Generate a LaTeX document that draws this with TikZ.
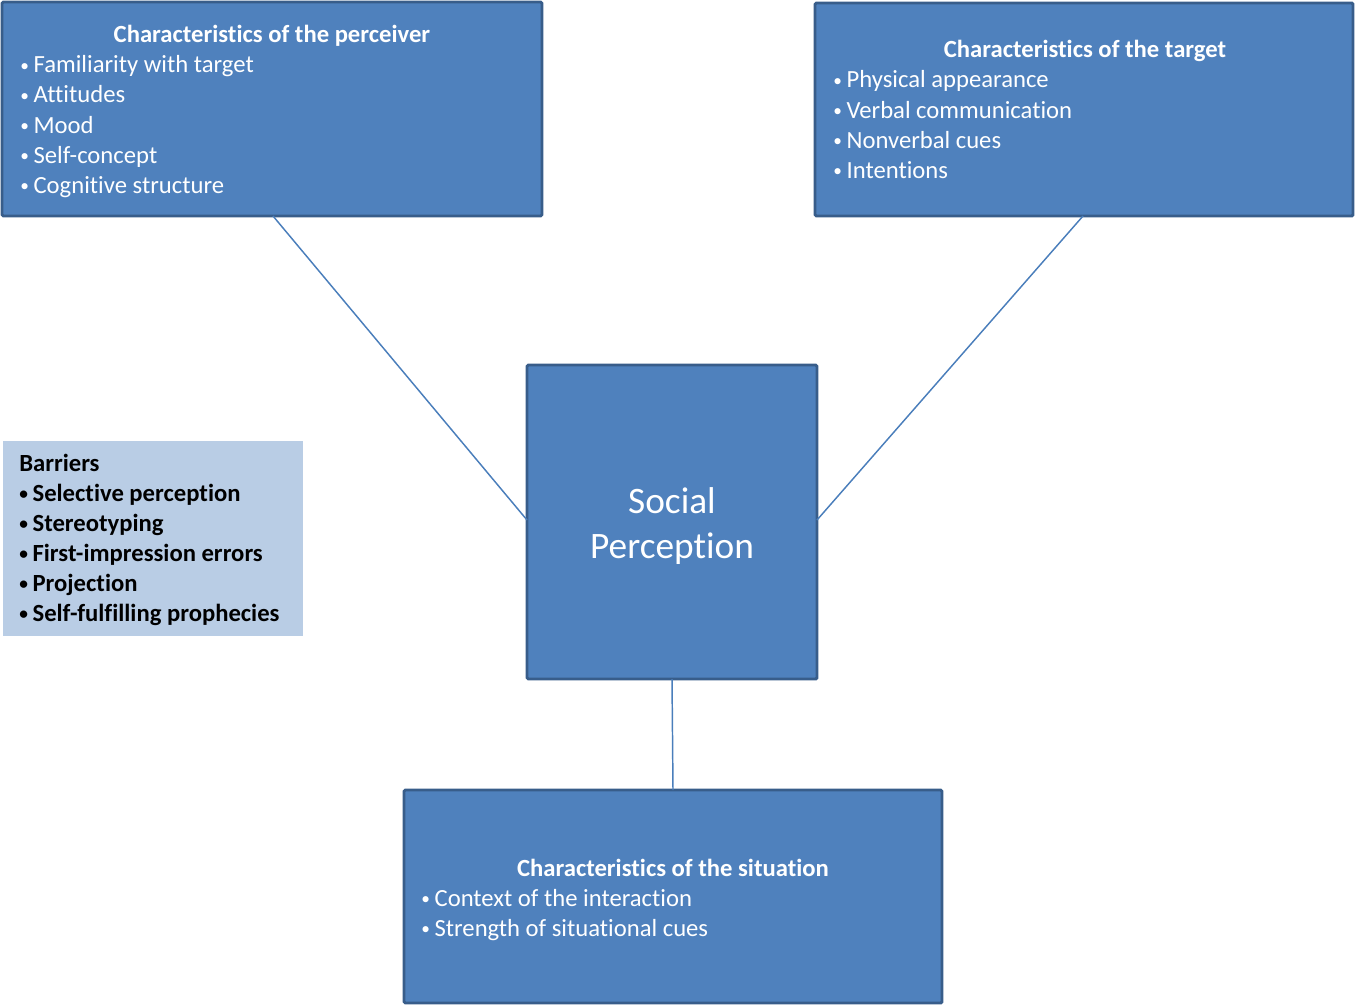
\documentclass[tikz,border=0pt]{standalone}
\usepackage{fontspec}
\setmainfont[Ligatures={NoCommon}]{Carlito}
\newcommand\bul{\makebox[10pt][l]{\raisebox{1.4pt}{\fontsize{13}{13}\selectfont\textbullet}}}
\begin{document}
\begin{tikzpicture}[x=0.75pt,y=-0.75pt,
  bluebox/.style={draw=boxborder,line width=2.2pt,fill=boxfill,rounded corners=1pt,inner sep=0pt},
  lightbox/.style={fill=barfill,draw=none,inner sep=0pt},
  wtxt/.style={text=white,font=\fontsize{18.5}{22.5}\selectfont,inner sep=0pt,anchor=base west},
  wtitle/.style={text=white,font=\fontsize{18.5}{22.5}\selectfont\bfseries,inner sep=0pt,anchor=base},
  btxt/.style={text=black,font=\fontsize{18.5}{22.5}\selectfont\bfseries,inner sep=0pt,anchor=base west},
  conn/.style={draw=linecol,line width=1.1pt}]
\definecolor{boxfill}{HTML}{4F81BD}
\definecolor{boxborder}{HTML}{385D8A}
\definecolor{barfill}{HTML}{B9CDE5}
\definecolor{linecol}{HTML}{4A7EBB}
\useasboundingbox (0,0) rectangle (1356,1006);
% boxes
\node[bluebox,minimum width=405pt,minimum height=160.5pt] (perc) at (272,109) {};
\node[bluebox,minimum width=403.5pt,minimum height=159.75pt] (targ) at (1084,109.5) {};
\node[bluebox,minimum width=217.5pt,minimum height=235.5pt] (soc) at (672,522) {};
\node[bluebox,minimum width=403.5pt,minimum height=159.75pt] (sit) at (673,896.5) {};
\node[lightbox,minimum width=225pt,minimum height=146.25pt] (bar) at (153,538.5) {};
% connectors
\coordinate (pc) at (273,216);
\coordinate (tc) at (1083,216);
\coordinate (sl) at (527,520);
\coordinate (sr) at (817,520);
\coordinate (sb) at (672,679);
\coordinate (st) at (673,790);
\draw[conn] (pc) -- (sl);
\draw[conn] (tc) -- (sr);
\draw[conn] (sb) -- (st);
% perceiver text
\node[wtitle] (pt) at (272,43) {Characteristics of the perceiver};
\node[wtxt] (p1) at (20,73) {\bul Familiarity with target};
\node[wtxt] (p2) at (20,103) {\bul Attitudes};
\node[wtxt] (p3) at (20,133) {\bul Mood};
\node[wtxt] (p4) at (20,163) {\bul Self-concept};
\node[wtxt] (p5) at (20,193) {\bul Cognitive structure};
% target text
\node[wtitle] (tt) at (1085,58) {Characteristics of the target};
\node[wtxt] (t1) at (833,88) {\bul Physical appearance};
\node[wtxt] (t2) at (833,118) {\bul Verbal communication};
\node[wtxt] (t3) at (833,148) {\bul Nonverbal cues};
\node[wtxt] (t4) at (833,178) {\bul Intentions};
% social perception
\node[text=white,font=\fontsize{28}{34}\selectfont,inner sep=0pt,anchor=base] (s1) at (672,513) {Social};
\node[text=white,font=\fontsize{28}{34}\selectfont,inner sep=0pt,anchor=base] (s2) at (672,558) {Perception};
% situation text
\node[wtitle] (ut) at (673,876) {Characteristics of the situation};
\node[wtxt] (u1) at (421,906) {\bul Context of the interaction};
\node[wtxt] (u2) at (421,936) {\bul Strength of situational cues};
% barriers
\node[btxt] (b0) at (19,471) {Barriers};
\node[btxt] (b1) at (19,501) {\bul Selective perception};
\node[btxt] (b2) at (19,531) {\bul Stereotyping};
\node[btxt] (b3) at (19,561) {\bul First-impression errors};
\node[btxt] (b4) at (19,591) {\bul Projection};
\node[btxt] (b5) at (19,621) {\bul Self-fulfilling prophecies};
\end{tikzpicture}
\end{document}
